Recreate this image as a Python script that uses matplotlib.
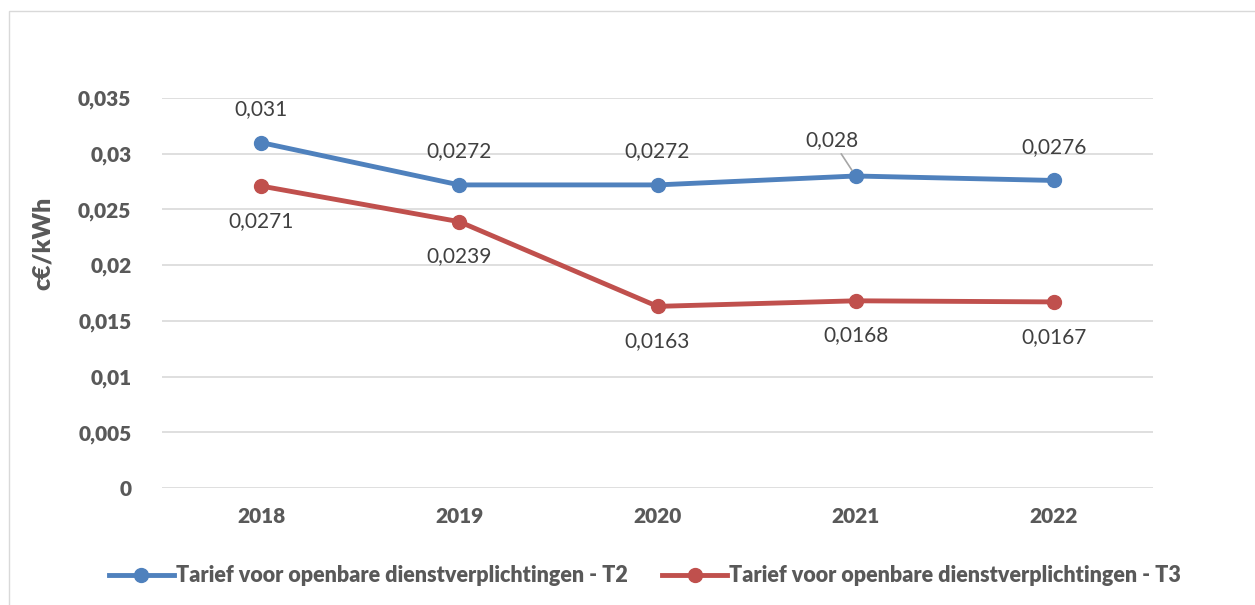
import matplotlib.pyplot as plt
from matplotlib.patches import Rectangle

# Gegevens
jaren = ['2018', '2019', '2020', '2021', '2022']
tarief_t2 = [0.031, 0.0272, 0.0272, 0.028, 0.0276]
tarief_t3 = [0.0271, 0.0239, 0.0163, 0.0168, 0.0167]
label_t2 = 'Tarief voor openbare dienstverplichtingen - T2'
label_t3 = 'Tarief voor openbare dienstverplichtingen - T3'
yticks = [0, 0.005, 0.01, 0.015, 0.02, 0.025, 0.03, 0.035]

plt.rcParams['font.family'] = ['Lato', 'DejaVu Sans']
grijs = '#595959'
blauw = '#4F81BD'
rood = '#C0504D'

fig = plt.figure(figsize=(12.55, 6.05), dpi=100)
ax = fig.add_axes([162 / 1255, 1 - 488 / 605, 991 / 1255, 390 / 605])

# Kader rond de grafiek
fig.patches.append(Rectangle((9 / 1255, -0.1), 1.2, 1 - 11 / 605 + 0.1,
                             transform=fig.transFigure, fill=False,
                             edgecolor='#D9D9D9', linewidth=1))

x = list(range(len(jaren)))
ax.plot(x, tarief_t2, color=blauw, linewidth=3.5, marker='o', markersize=10,
        label=label_t2, zorder=3)
ax.plot(x, tarief_t3, color=rood, linewidth=3.5, marker='o', markersize=10,
        label=label_t3, zorder=3)

def fmt(v):
    return ('%g' % v).replace('.', ',')

# Labels T2 boven, T3 onder
for i, v in enumerate(tarief_t2):
    if i == 3:
        ax.annotate(fmt(v), xy=(i, v), xytext=(-17, 26), textcoords='offset points',
                    ha='center', va='center', fontsize=15, color='#404040',
                    arrowprops=dict(arrowstyle='-', color='#A6A6A6', lw=1.2,
                                    shrinkA=1, shrinkB=5))
    else:
        ax.annotate(fmt(v), xy=(i, v), xytext=(0, 24), textcoords='offset points',
                    ha='center', va='center', fontsize=15, color='#404040')
for i, v in enumerate(tarief_t3):
    ax.annotate(fmt(v), xy=(i, v), xytext=(0, -25), textcoords='offset points',
                ha='center', va='center', fontsize=15, color='#404040')

ax.set_xlim(-0.5, 4.5)
ax.set_ylim(0, 0.035)
ax.set_xticks(x)
ax.set_xticklabels(jaren)
ax.set_yticks(yticks)
ax.set_yticklabels([fmt(t) for t in yticks])
ax.tick_params(length=0, labelsize=15, labelcolor=grijs)
ax.tick_params(axis='x', pad=14)
ax.tick_params(axis='y', pad=22)
for lbl in ax.get_xticklabels() + ax.get_yticklabels():
    lbl.set_fontweight('heavy')

ax.grid(axis='y', color='#D9D9D9', linewidth=1.2)
ax.set_axisbelow(True)
for s in ax.spines.values():
    s.set_visible(False)

fig.text(43 / 1255, 1 - 243 / 605, 'c€/kWh', rotation=90, ha='center', va='center',
         fontsize=18, fontweight='heavy', color=grijs)

leg = fig.legend(loc='center', bbox_to_anchor=(645 / 1255, 1 - 576 / 605), ncol=2,
                 frameon=False, handlelength=3, handletextpad=0.1, columnspacing=1.6,
                 prop={'size': 15.5, 'weight': 'heavy'})
for t in leg.get_texts():
    t.set_color(grijs)

fig.savefig('out.png', dpi=100)
